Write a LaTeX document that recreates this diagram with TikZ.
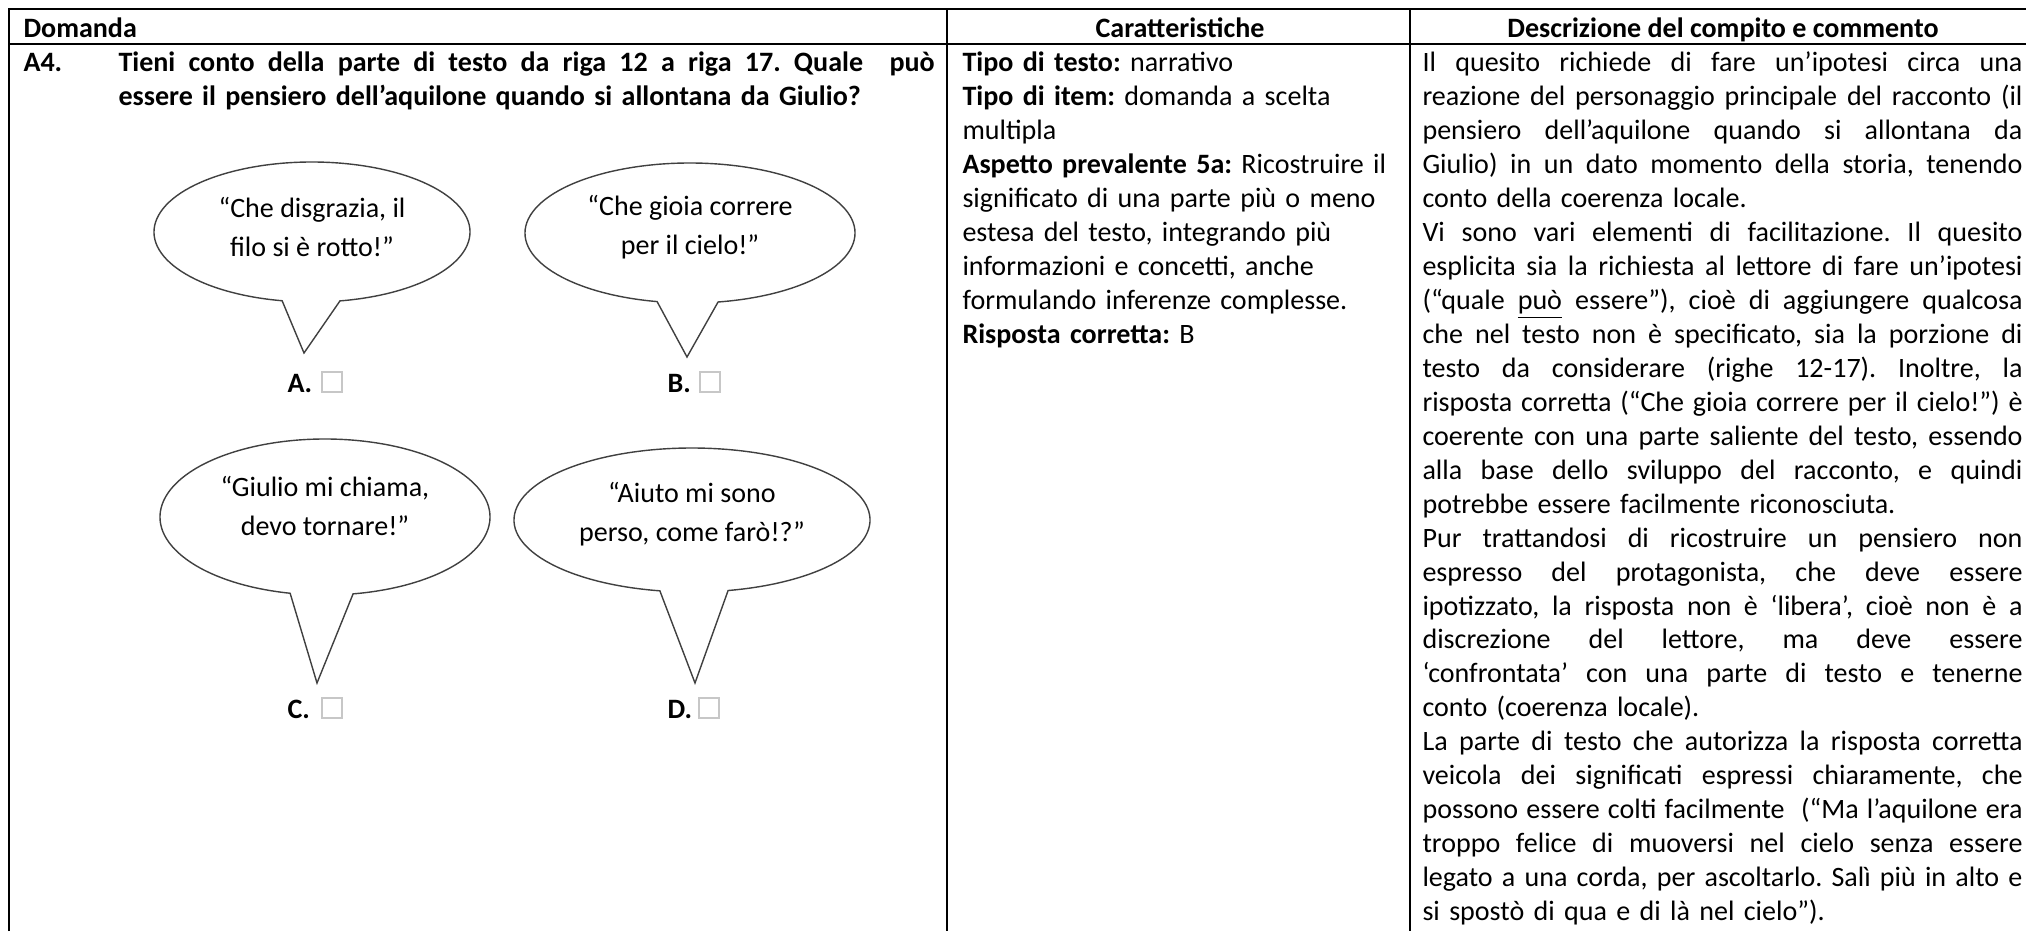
\documentclass[tikz,border=0pt]{standalone}
\usepackage{fontspec}
\setmainfont{Carlito}
\frenchspacing
\newcommand\jl[1]{\makebox[\linewidth][s]{\spaceskip=\fontdimen2\font plus 1fil minus 0.3\fontdimen2\font
  \xspaceskip=\spaceskip\relax #1}}
\begin{document}
\begin{tikzpicture}[x=0.392157pt,y=-0.392157pt,
  gridline/.style={line width=1pt,black},
  bubble/.style={draw=black!75,line width=0.55pt,line join=miter},
  para/.style={anchor=base west,inner sep=0pt,align=left,font=\fontsize{11pt}{13.333pt}\selectfont},
  qpara/.style={para,font=\fontsize{11pt}{13.333pt}\selectfont\bfseries},
  hd/.style={inner sep=0pt,font=\fontsize{11pt}{13.333pt}\selectfont\bfseries},
  btext/.style={inner sep=0pt,align=center,font=\fontsize{11pt}{15.3pt}\selectfont},
  lab/.style={anchor=base west,inner sep=0pt,font=\fontsize{11pt}{13.333pt}\selectfont\bfseries},
  chk/.style={draw=black!22,line width=0.5pt,minimum size=7.8pt,inner sep=0pt}]
\useasboundingbox (0,0) rectangle (2026,931);
\fill[white] (0,0) rectangle (2026,931);

% table lines
\draw[gridline] (9,931) -- (9,9) -- (2026,9);
\draw[gridline] (9,44) -- (2026,44);
\draw[gridline] (947,9) -- (947,931);
\draw[gridline] (1410,9) -- (1410,931);

% headers
\node[hd,anchor=base west] (h1) at (23,37) {Domanda};
\node[hd,anchor=base] (h2) at (1180,37) {Caratteristiche};
\node[hd,anchor=base] (h3) at (1723,37) {Descrizione del compito e commento};

% column 1
\node[lab] (a4) at (23,71) {A4.};
\node[qpara,text width=320pt] (q) at (118,71) {%
\jl{Tieni conto della parte di testo da riga 12 a riga 17. Quale\ \ può}\\
essere il pensiero dell’aquilone quando si allontana da Giulio?};

% bubbles
\coordinate (cA) at (312,232);
\coordinate (pA) at (304,353);
\draw[bubble] ([shift={(100.9:158 and 70)}]cA) arc[start angle=100.9,end angle=439.8,x radius=158,y radius=70] -- (pA) -- cycle;
\node[btext] (tA) at (312,227) {“Che disgrazia, il\\filo si è rotto!”};
\node[lab] (lA) at (287,392) {A.};
\node[chk] (kA) at (332,382) {};

\coordinate (cB) at (690,233);
\coordinate (pB) at (687,357);
\draw[bubble] ([shift={(101.5:165 and 70)}]cB) arc[start angle=101.5,end angle=440.2,x radius=165,y radius=70] -- (pB) -- cycle;
\node[btext] (tB) at (690,227) {“Che gioia correre\\per il cielo!”};
\node[lab] (lB) at (667,392) {B.};
\node[chk] (kB) at (710,382) {};

\coordinate (cC) at (325,517);
\coordinate (pC) at (317,683);
\draw[bubble] ([shift={(102.2:165 and 78)}]cC) arc[start angle=102.2,end angle=440.2,x radius=165,y radius=78] -- (pC) -- cycle;
\node[btext] (tC) at (325,506) {“Giulio mi chiama,\\devo tornare!”};
\node[lab] (lC) at (287,718) {C.};
\node[chk] (kC) at (332,708) {};

\coordinate (cD) at (692,520);
\coordinate (pD) at (695,683);
\draw[bubble] ([shift={(100.4:178 and 72)}]cD) arc[start angle=100.4,end angle=438.3,x radius=178,y radius=72] -- (pD) -- cycle;
\node[btext] (tD) at (692,514) {“Aiuto mi sono\\perso, come farò!?”};
\node[lab] (lD) at (667,718) {D.};
\node[chk] (kD) at (709,708) {};

% column 2
\node[para,text width=171.8pt] (c2) at (962,71) {%
\textbf{Tipo di testo:} narrativo\\
\textbf{Tipo di item:} domanda a scelta\\
multipla\\
\textbf{Aspetto prevalente 5a:} Ricostruire il\\
significato di una parte più o meno\\
estesa del testo, integrando più\\
informazioni e concetti, anche\\
formulando inferenze complesse.\\
\textbf{Risposta corretta:} B};

% column 3
\node[para,text width=235.3pt] (c3) at (1422,71) {%
\jl{Il quesito richiede di fare un’ipotesi circa una}\\
\jl{reazione del personaggio principale del racconto (il}\\
\jl{pensiero dell’aquilone quando si allontana da}\\
\jl{Giulio) in un dato momento della storia, tenendo}\\
conto della coerenza locale.\\
\jl{Vi sono vari elementi di facilitazione. Il quesito}\\
\jl{esplicita sia la richiesta al lettore di fare un’ipotesi}\\
\jl{(“quale \underline{può} essere”), cioè di aggiungere qualcosa}\\
\jl{che nel testo non è specificato, sia la porzione di}\\
\jl{testo da considerare (righe 12-17). Inoltre, la}\\
\jl{risposta corretta (“Che gioia correre per il cielo!”) è}\\
\jl{coerente con una parte saliente del testo, essendo}\\
\jl{alla base dello sviluppo del racconto, e quindi}\\
potrebbe essere facilmente riconosciuta.\\
\jl{Pur trattandosi di ricostruire un pensiero non}\\
\jl{espresso del protagonista, che deve essere}\\
\jl{ipotizzato, la risposta non è ‘libera’, cioè non è a}\\
\jl{discrezione del lettore, ma deve essere}\\
\jl{‘confrontata’ con una parte di testo e tenerne}\\
conto (coerenza locale).\\
\jl{La parte di testo che autorizza la risposta corretta}\\
\jl{veicola dei significati espressi chiaramente, che}\\
\jl{possono essere colti facilmente\ \ (“Ma l’aquilone era}\\
\jl{troppo felice di muoversi nel cielo senza essere}\\
\jl{legato a una corda, per ascoltarlo. Salì più in alto e}\\
si spostò di qua e di là nel cielo”).};
\end{tikzpicture}
\end{document}
